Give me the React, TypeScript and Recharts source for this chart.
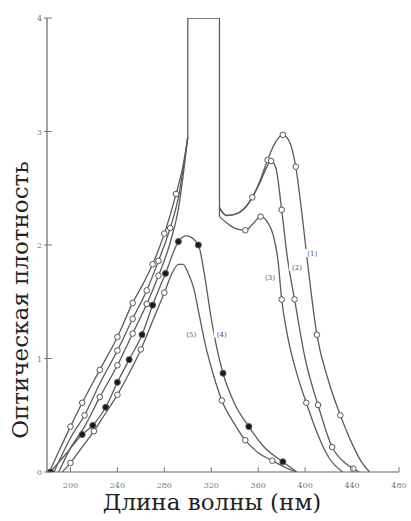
import React from 'react';
import { LineChart, Line, XAxis, YAxis, ReferenceDot, Label } from 'recharts';

// tick labels
const xTicks = [200, 240, 280, 320, 360, 400, 440, 480];
const yTicks = [0, 1, 2, 3, 4];

// rising trunk curves (go off-scale near 300 nm)
const t1Nm = [182, 190, 200, 210, 225, 240, 253, 262, 270, 280, 290, 296, 300];
const t1Od = [0, 0.18, 0.4, 0.61, 0.9, 1.19, 1.49, 1.66, 1.83, 2.1, 2.45, 2.7, 2.95];
const t1Marks = [200, 210, 225, 240, 253, 270, 280, 290];

const t2Nm = [186, 200, 212, 225, 240, 253, 265, 275, 285, 292, 300];
const t2Od = [0, 0.3, 0.5, 0.78, 1.07, 1.35, 1.6, 1.86, 2.15, 2.42, 2.95];
const t2Marks = [212, 240, 253, 265, 275, 285];

const t3Nm = [190, 200, 212, 225, 240, 253, 265, 275, 285, 292, 300];
const t3Od = [0, 0.21, 0.4, 0.66, 0.94, 1.22, 1.48, 1.73, 2.02, 2.32, 2.95];
const t3Marks = [225, 240, 253, 265, 275];

// off-scale cap (absorption above 4)
const capNm = [300, 300, 327, 327];
const capOd = [2.95, 4, 4, 2.25];

// right-hand curves
const rNm = [327, 333, 340, 348, 355, 362, 368, 375, 381, 387, 392, 397, 402, 410, 420, 430, 440, 448, 455];
const rOd = [2.33, 2.26, 2.27, 2.32, 2.42, 2.58, 2.75, 2.91, 2.97, 2.9, 2.69, 2.3, 1.85, 1.21, 0.8, 0.5, 0.25, 0.09, 0];
const rMarks = [368, 381, 392, 410, 430];

const mNm = [327, 333, 340, 348, 355, 362, 367, 371, 375, 380, 385, 391, 400, 411, 423, 434, 441, 446];
const mOd = [2.33, 2.26, 2.27, 2.32, 2.42, 2.56, 2.68, 2.74, 2.68, 2.31, 1.88, 1.52, 1.0, 0.59, 0.22, 0.08, 0.03, 0];
const mMarks = [355, 371, 380, 391, 411, 423, 441];

const lNm = [327, 335, 342, 349, 355, 362, 368, 373, 377, 380, 385, 392, 401, 410, 420, 432];
const lOd = [2.25, 2.18, 2.14, 2.13, 2.18, 2.25, 2.2, 2.08, 1.85, 1.52, 1.2, 0.9, 0.61, 0.35, 0.13, 0];
const lMarks = [349, 362, 380, 401];

// filled-dot curve
const fNm = [183, 197, 210, 219, 230, 240, 250, 261, 270, 281, 292, 299, 309, 314, 320, 325, 330, 340, 352, 365, 381, 393];
const fOd = [0, 0.17, 0.33, 0.41, 0.57, 0.79, 0.99, 1.21, 1.47, 1.75, 2.03, 2.08, 2.0, 1.75, 1.35, 1.08, 0.87, 0.6, 0.4, 0.22, 0.09, 0];
const fMarks = [183, 210, 219, 230, 240, 250, 261, 270, 281, 292, 309, 330, 352, 381];

// lowest open-circle curve
const oNm = [193, 200, 210, 220, 230, 240, 250, 260, 270, 280, 287, 292, 296, 300, 305, 310, 315, 322, 329, 340, 349, 360, 372, 383, 392];
const oOd = [0, 0.08, 0.22, 0.36, 0.52, 0.68, 0.87, 1.08, 1.33, 1.58, 1.76, 1.83, 1.83, 1.76, 1.62, 1.37, 1.12, 0.85, 0.63, 0.42, 0.28, 0.17, 0.1, 0.04, 0];
const oMarks = [200, 220, 240, 260, 280, 329, 349, 372];

// curve labels
const curveLabels = ['(5)', '(4)', '(3)', '(2)', '(1)'];
const labelNm = [303, 329, 370, 393, 406];
const labelOd = [1.22, 1.22, 1.72, 1.81, 1.93];

const build = (nm: number[], od: number[], marks: number[]) =>
  nm.map((x, i) => ({ x, y: od[i], m: marks.includes(x) }));

const STROKE = '#5c5c5c';
const FONT = 'DejaVu Serif';

const makeDot = (filled: boolean) => (props: any) => {
  const { cx, cy, payload, index } = props;
  if (!payload || !payload.m || cx == null || cy == null) return <g key={`d${index}`} />;
  return (
    <circle
      key={`d${index}`}
      cx={cx}
      cy={cy}
      r={filled ? 3 : 2.8}
      fill={filled ? '#1a1a1a' : '#ffffff'}
      stroke="#555"
      strokeWidth={1}
    />
  );
};

const XTick = (props: any) => {
  const { x, y, payload } = props;
  return (
    <g>
      <line x1={x} y1={y} x2={x} y2={y - 5} stroke="#777" strokeWidth={1} />
      <text x={x} y={y + 16} textAnchor="middle" fontSize={8} fill="#777" fontFamily={FONT}>
        {payload.value}
      </text>
    </g>
  );
};

const YTick = (props: any) => {
  const { x, y, payload } = props;
  return (
    <g>
      <line x1={x - 3} y1={y} x2={x + 5} y2={y} stroke="#777" strokeWidth={1} />
      <text x={x - 5} y={y + 3} textAnchor="end" fontSize={8} fill="#777" fontFamily={FONT}>
        {payload.value}
      </text>
    </g>
  );
};

const YLabel = (props: any) => {
  const vb = props.viewBox || { x: 0, y: 0 };
  const cx = vb.x + 20;
  const cy = vb.y + 282;
  return (
    <text
      x={cx}
      y={cy}
      transform={`rotate(-90, ${cx}, ${cy})`}
      textAnchor="middle"
      dominantBaseline="central"
      fontSize={23}
      fill="#222"
      fontFamily={FONT}
    >
      Оптическая плотность
    </text>
  );
};

const XLabel = (props: any) => {
  const vb = props.viewBox || { x: 0, y: 0 };
  const cx = vb.x + 165;
  const cy = vb.y + 30;
  return (
    <text x={cx} y={cy} textAnchor="middle" dominantBaseline="central" fontSize={23} fill="#222" fontFamily={FONT}>
      Длина волны (нм)
    </text>
  );
};

const series = [
  { key: 't1', data: build(t1Nm, t1Od, t1Marks), filled: false, type: 'monotone' },
  { key: 't2', data: build(t2Nm, t2Od, t2Marks), filled: false, type: 'monotone' },
  { key: 't3', data: build(t3Nm, t3Od, t3Marks), filled: false, type: 'monotone' },
  { key: 'cap', data: build(capNm, capOd, []), filled: false, type: 'linear' },
  { key: 'r', data: build(rNm, rOd, rMarks), filled: false, type: 'monotone' },
  { key: 'm', data: build(mNm, mOd, mMarks), filled: false, type: 'monotone' },
  { key: 'l', data: build(lNm, lOd, lMarks), filled: false, type: 'monotone' },
  { key: 'f', data: build(fNm, fOd, fMarks), filled: true, type: 'monotone' },
  { key: 'o', data: build(oNm, oOd, oMarks), filled: false, type: 'monotone' },
];

export default function App() {
  return (
    <div style={{ width: 411, height: 521, background: '#fff', overflow: 'hidden' }}>
      <style>{'html,body{margin:0;padding:0;overflow:hidden;background:#fff}'}</style>
      <LineChart width={411} height={521} margin={{ top: 18, right: 12, bottom: 0, left: 0 }}>
        <XAxis
          type="number"
          dataKey="x"
          domain={[180, 480]}
          ticks={xTicks}
          allowDataOverflow
          height={49}
          tickSize={0}
          tickMargin={0}
          tickLine={false}
          tick={<XTick />}
          axisLine={{ stroke: '#666', strokeWidth: 1.2 }}
          label={<Label content={<XLabel />} />}
        />
        <YAxis
          type="number"
          dataKey="y"
          domain={[0, 4]}
          ticks={yTicks}
          allowDataOverflow
          width={47}
          tickSize={0}
          tickMargin={0}
          tickLine={false}
          tick={<YTick />}
          axisLine={{ stroke: '#666', strokeWidth: 1.2 }}
          label={<Label content={<YLabel />} />}
        />
        {series.map((s) => (
          <Line
            key={s.key}
            data={s.data}
            dataKey="y"
            type={s.type as any}
            stroke={STROKE}
            strokeWidth={1.3}
            dot={makeDot(s.filled)}
            activeDot={false}
            isAnimationActive={false}
          />
        ))}
        {curveLabels.map((t, i) => (
          <ReferenceDot
            key={t}
            x={labelNm[i]}
            y={labelOd[i]}
            r={0}
            shape={(p: any) => (
              <g>
                <rect x={p.cx - 8} y={p.cy - 4} width={16} height={8} fill="#fff" />
                <text x={p.cx} y={p.cy + 3} textAnchor="middle" fontSize={7} fill="#555" fontFamily={FONT}>
                  {t}
                </text>
              </g>
            )}
          />
        ))}
      </LineChart>
    </div>
  );
}
